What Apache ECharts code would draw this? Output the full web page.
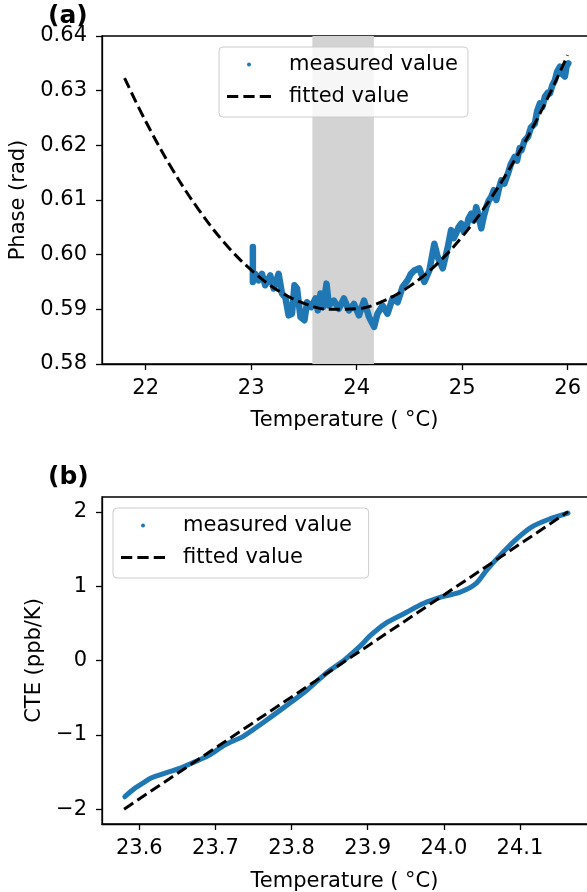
<!DOCTYPE html>
<html>
<head>
<meta charset="utf-8">
<script src="https://cdn.jsdelivr.net/npm/echarts@6/dist/echarts.min.js"></script>
<style>
html,body{margin:0;padding:0;background:#fff;overflow:hidden;}
#chart{width:587px;height:892px;}
</style>
</head>
<body>
<div id="chart"></div>
<script>
// ---------- data ----------
// (a) measured phase vs temperature
const phaseTemp = [23.016,23.016,23.038,23.07,23.102,23.133,23.181,23.213,23.26,23.292,23.324,23.355,23.387,23.41,23.435,23.467,23.505,23.53,23.568,23.61,23.632,23.657,23.683,23.714,23.737,23.784,23.831,23.879,23.927,23.974,24.022,24.07,24.117,24.165,24.197,24.245,24.292,24.34,24.388,24.435,24.483,24.514,24.546,24.594,24.641,24.689,24.736,24.768,24.816,24.864,24.895,24.92,24.943,24.965,24.99,25.015,25.038,25.06,25.086,25.11,25.133,25.155,25.181,25.205,25.229,25.25,25.276,25.30,25.324,25.35,25.371,25.40,25.435,25.46,25.498,25.52,25.545,25.562,25.59,25.625,25.65,25.689,25.71,25.737,25.76,25.784,25.81,25.832,25.855,25.879,25.90,25.927,25.95,25.974,25.99,26.006];
const phaseValue = [0.6014,0.5950,0.5965,0.5953,0.5965,0.5944,0.5962,0.5938,0.5965,0.5929,0.5922,0.5889,0.5892,0.5944,0.5938,0.5886,0.5880,0.5913,0.5904,0.5920,0.5898,0.5929,0.5904,0.5947,0.5907,0.5916,0.5901,0.5920,0.5898,0.5910,0.5889,0.5916,0.5886,0.5868,0.5892,0.5907,0.5892,0.5920,0.5913,0.5941,0.5953,0.5965,0.5971,0.5975,0.5950,0.5971,0.6020,0.5996,0.5975,0.6014,0.6045,0.6030,0.6039,0.6050,0.6057,0.6042,0.6048,0.6066,0.6075,0.6062,0.6087,0.6072,0.6048,0.6070,0.6087,0.6098,0.6106,0.6118,0.6100,0.6122,0.6136,0.6130,0.6149,0.6165,0.6179,0.6172,0.6195,0.6191,0.6208,0.6216,0.6232,0.6240,0.6262,0.6277,0.6270,0.6289,0.6296,0.6295,0.6310,0.6319,0.6335,0.6344,0.6330,0.6326,0.6345,0.6350];
// (a) fitted phase
const fitTemp  = [21.8,22.0,22.25,22.5,22.75,23.0,23.25,23.5,23.75,24.0,24.25,24.5,24.75,25.0,25.25,25.5,25.75,26.0];
const fitPhase = [0.6323,0.6244,0.6157,0.6083,0.6021,0.5972,0.5935,0.5911,0.5900,0.5901,0.5915,0.5942,0.5981,0.6033,0.6097,0.6174,0.6263,0.6365];
// shaded temperature window in (a)
const bandRange = [23.58, 24.163];
// (b) measured CTE vs temperature
const cteTemp  = [23.581,23.594,23.604,23.616,23.633,23.653,23.673,23.692,23.712,23.737,23.761,23.791,23.82,23.845,23.869,23.889,23.904,23.923,23.948,23.973,23.997,24.022,24.042,24.056,24.076,24.096,24.115,24.14,24.163];
const cteValue = [-1.833,-1.72,-1.653,-1.578,-1.519,-1.452,-1.363,-1.273,-1.138,-1.017,-0.847,-0.624,-0.4,-0.175,0.004,0.183,0.34,0.497,0.632,0.766,0.855,0.922,1.035,1.214,1.438,1.64,1.796,1.909,1.984];
// (b) fitted CTE
const fitCteTemp = [23.58, 24.163];
const fitCte     = [-2.0, 2.0];
// tick labels
const xTicksA = [22,23,24,25,26];
const yTicksA = [0.58,0.59,0.60,0.61,0.62,0.63,0.64];
const xTicksB = [23.6,23.7,23.8,23.9,24.0,24.1];
const yTicksB = [-2,-1,0,1,2];

// ---------- chart ----------
const FONT = 'DejaVu Sans';
const BLUE = '#1f77b4';
const zip = (xs, ys) => xs.map((x, i) => [x, ys[i]]);
const dashIcon = 'path://M0,0h11v3h-11z M16,0h11v3h-11z M32,0h11v3h-11z';

function xAxisCfg(idx, min, max, ticks, fmt, name, gap) {
  return {
    type: 'value', gridIndex: idx, min: min, max: max,
    name: name, nameLocation: 'middle', nameGap: gap,
    nameTextStyle: {fontFamily: FONT, fontSize: 21, color: '#000', padding: [0, 8, 0, 0]},
    axisLine: {show: true, onZero: false, lineStyle: {color: '#000', width: 1.3}},
    axisTick: {show: true, inside: false, length: 6, lineStyle: {color: '#000', width: 1.3}, customValues: ticks},
    axisLabel: {show: true, margin: 14, fontFamily: FONT, fontSize: 21, color: '#000', customValues: ticks, formatter: fmt, showMinLabel: true, showMaxLabel: true},
    splitLine: {show: false}
  };
}
function yAxisCfg(idx, min, max, ticks, fmt, name, gap) {
  return {
    type: 'value', gridIndex: idx, min: min, max: max,
    name: name, nameLocation: 'middle', nameGap: gap,
    nameTextStyle: {fontFamily: FONT, fontSize: 21, color: '#000'},
    axisLine: {show: true, onZero: false, lineStyle: {color: '#000', width: 1.3}},
    axisTick: {show: true, inside: false, length: 6, lineStyle: {color: '#000', width: 1.3}, customValues: ticks},
    axisLabel: {show: true, margin: 15, fontFamily: FONT, fontSize: 21, color: '#000', customValues: ticks, formatter: fmt},
    splitLine: {show: false}
  };
}
function legendCfg(left, top) {
  return {
    orient: 'vertical', left: left, top: top,
    padding: [5, 10, 8, 8],
    itemWidth: 44, itemHeight: 4, itemGap: 7,
    backgroundColor: 'rgba(255,255,255,0.8)',
    borderColor: '#cccccc', borderWidth: 1, borderRadius: 4,
    selectedMode: false,
    itemStyle: {borderWidth: 0},
    textStyle: {fontFamily: FONT, fontSize: 21, color: '#000', lineHeight: 25, padding: [0, 0, 0, 13]}
  };
}

const chart = echarts.init(document.getElementById('chart'), null, {renderer: 'canvas'});
chart.setOption({
  animation: false,
  backgroundColor: '#fff',
  title: [
    {text: '(a)', left: 48, top: 1, padding: 0, textStyle: {fontFamily: FONT, fontSize: 25, fontWeight: 'bold', color: '#000', lineHeight: 30}},
    {text: '(b)', left: 48, top: 462, padding: 0, textStyle: {fontFamily: FONT, fontSize: 25, fontWeight: 'bold', color: '#000', lineHeight: 30}}
  ],
  grid: [
    {left: 102, right: -8, top: 36, height: 328, outerBoundsMode: 'none', containLabel: false, show: true, borderColor: '#000', borderWidth: 1.3, backgroundColor: 'transparent'},
    {left: 102, right: -8, top: 497, height: 327, outerBoundsMode: 'none', containLabel: false, show: true, borderColor: '#000', borderWidth: 1.3, backgroundColor: 'transparent'}
  ],
  xAxis: [
    xAxisCfg(0, 21.586, 26.259, xTicksA, v => String(Math.round(v)), 'Temperature ( °C)', 46),
    xAxisCfg(1, 23.551, 24.1985, xTicksB, v => v.toFixed(1), 'Temperature ( °C)', 47)
  ],
  yAxis: [
    yAxisCfg(0, 0.58, 0.64, yTicksA, v => v.toFixed(2), 'Phase (rad)', 72),
    yAxisCfg(1, -2.2, 2.2, yTicksB, v => (v < 0 ? '\u2212' + Math.abs(v) : String(v)), 'CTE (ppb/K)', 56)
  ],
  legend: [
    Object.assign(legendCfg(219, 47), {data: [
      {name: 'measured value', icon: 'circle'},
      {name: 'fitted value', icon: dashIcon}
    ]}),
    Object.assign(legendCfg(113, 508), {data: [
      {name: 'measured value ', icon: 'circle'},
      {name: 'fitted value ', icon: dashIcon}
    ]})
  ],
  series: [
    {
      name: 'measured value', type: 'line', xAxisIndex: 0, yAxisIndex: 0,
      data: zip(phaseTemp, phaseValue), showSymbol: false, symbol: 'none',
      color: BLUE, lineStyle: {color: BLUE, width: 6.5, join: 'round', cap: 'round'},
      z: 2,
      markArea: {silent: true, z: 1, itemStyle: {color: '#d3d3d3'}, label: {show: false},
        data: [[{xAxis: bandRange[0]}, {xAxis: bandRange[1]}]]}
    },
    {
      name: 'fitted value', type: 'line', xAxisIndex: 0, yAxisIndex: 0,
      data: zip(fitTemp, fitPhase), showSymbol: false, symbol: 'none', smooth: 0.4,
      color: '#000', lineStyle: {color: '#000', width: 3, type: [11, 5]}, z: 3
    },
    {
      name: 'measured value ', type: 'line', xAxisIndex: 1, yAxisIndex: 1,
      data: zip(cteTemp, cteValue), showSymbol: false, symbol: 'none', smooth: 0.3,
      color: BLUE, lineStyle: {color: BLUE, width: 5, join: 'round', cap: 'round'}, z: 2
    },
    {
      name: 'fitted value ', type: 'line', xAxisIndex: 1, yAxisIndex: 1,
      data: zip(fitCteTemp, fitCte), showSymbol: false, symbol: 'none',
      color: '#000', lineStyle: {color: '#000', width: 3, type: [11, 5]}, z: 3
    }
  ]
});
</script>
</body>
</html>
